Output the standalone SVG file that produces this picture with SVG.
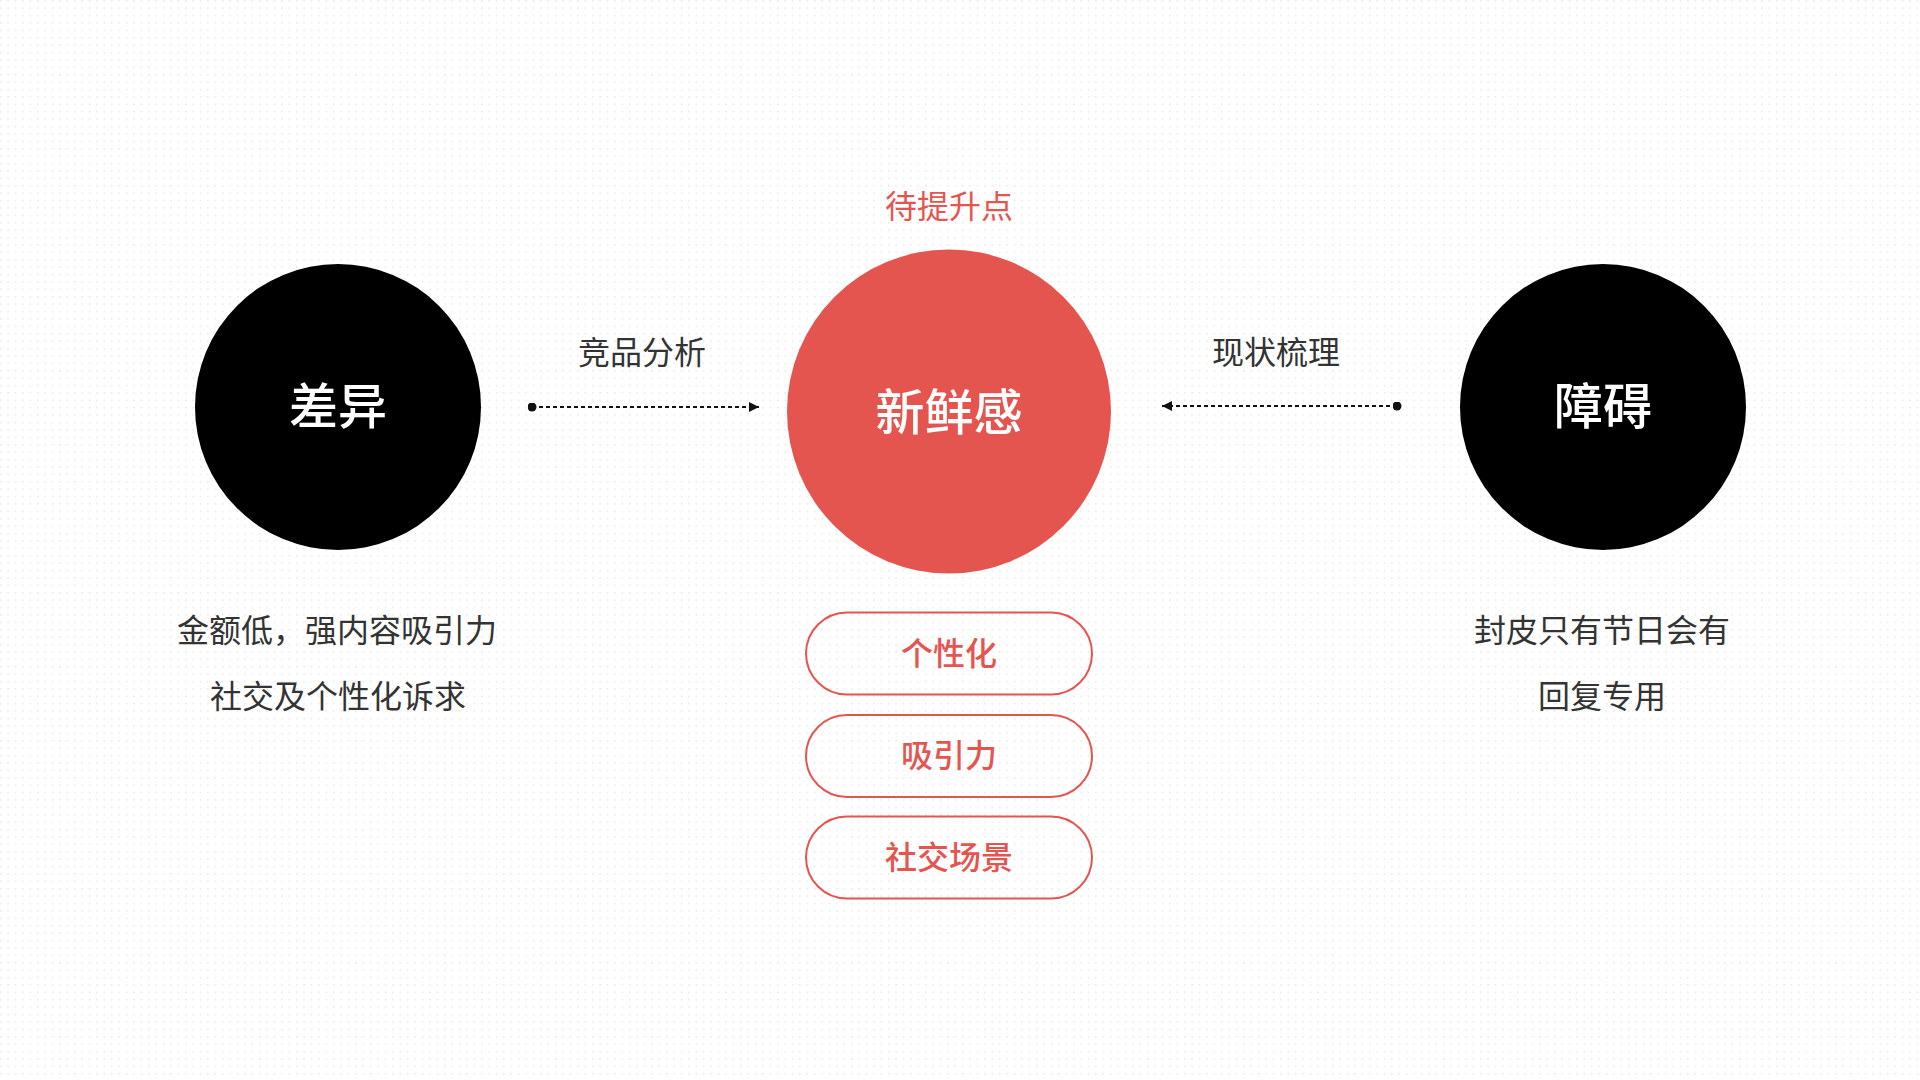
<svg xmlns="http://www.w3.org/2000/svg" width="1920" height="1080" viewBox="0 0 1920 1080">
<style>
.cjk{font-family:"Noto Sans CJK SC","Noto Sans",sans-serif;text-anchor:middle}
.big{font-size:49px;fill:#fff;font-weight:500}
.lbl{font-size:32px;fill:#333}
.desc{font-size:32px;fill:#333}
.red{fill:#E5554F}
.pill{fill:none;stroke:#E5554F;stroke-width:2}
.pilltxt{font-size:32px;fill:#E5554F;font-weight:500}
.conn{stroke:#111;stroke-width:2;stroke-dasharray:4 3;fill:none}
</style>
<defs>
<pattern id="dots" width="7.4" height="7.4" patternUnits="userSpaceOnUse">
<rect x="0" y="0" width="1.4" height="1.4" fill="#e4e4e4"/>
</pattern>
<marker id="arr" viewBox="0 0 10 10" refX="10" refY="5" markerWidth="10" markerHeight="10" markerUnits="userSpaceOnUse" orient="auto">
<path d="M0,0 L10,5 L0,10 z" fill="#111"/>
</marker>
<marker id="dot" viewBox="0 0 10 10" refX="5" refY="5" markerWidth="9" markerHeight="9" markerUnits="userSpaceOnUse">
<circle cx="5" cy="5" r="5" fill="#111"/>
</marker>
</defs>
<rect width="1920" height="1080" fill="#fff"/>
<rect width="1920" height="1080" fill="url(#dots)"/>

<g id="connectors">
<line class="conn" x1="532" y1="407" x2="759" y2="407" marker-start="url(#dot)" marker-end="url(#arr)"/>
<line class="conn" x1="1397" y1="406" x2="1162" y2="406" marker-start="url(#dot)" marker-end="url(#arr)"/>
<text class="cjk lbl" x="642" y="364">竞品分析</text>
<text class="cjk lbl" x="1276" y="364">现状梳理</text>
</g>

<g id="node-chayi">
<circle cx="338" cy="407" r="143" fill="#000"/>
<text class="cjk big" x="338" y="424">差异</text>
<text class="cjk desc" x="337" y="642">金额低，强内容吸引力</text>
<text class="cjk desc" x="338" y="708">社交及个性化诉求</text>
</g>

<g id="node-xinxiangan">
<text class="cjk red" x="949" y="218" style="font-size:32px">待提升点</text>
<circle cx="949" cy="411.5" r="162" fill="#E5554F"/>
<text class="cjk big" x="949" y="430">新鲜感</text>
</g>

<g id="node-zhangai">
<circle cx="1603" cy="407" r="143" fill="#000"/>
<text class="cjk big" x="1603" y="424">障碍</text>
<text class="cjk desc" x="1602" y="642">封皮只有节日会有</text>
<text class="cjk desc" x="1602" y="708">回复专用</text>
</g>

<g id="pill-1">
<rect class="pill" x="806" y="612.5" width="286" height="82" rx="41"/>
<text class="cjk pilltxt" x="949" y="665">个性化</text>
</g>
<g id="pill-2">
<rect class="pill" x="806" y="715" width="286" height="82" rx="41"/>
<text class="cjk pilltxt" x="949" y="767">吸引力</text>
</g>
<g id="pill-3">
<rect class="pill" x="806" y="816.5" width="286" height="82" rx="41"/>
<text class="cjk pilltxt" x="949" y="869">社交场景</text>
</g>
</svg>
